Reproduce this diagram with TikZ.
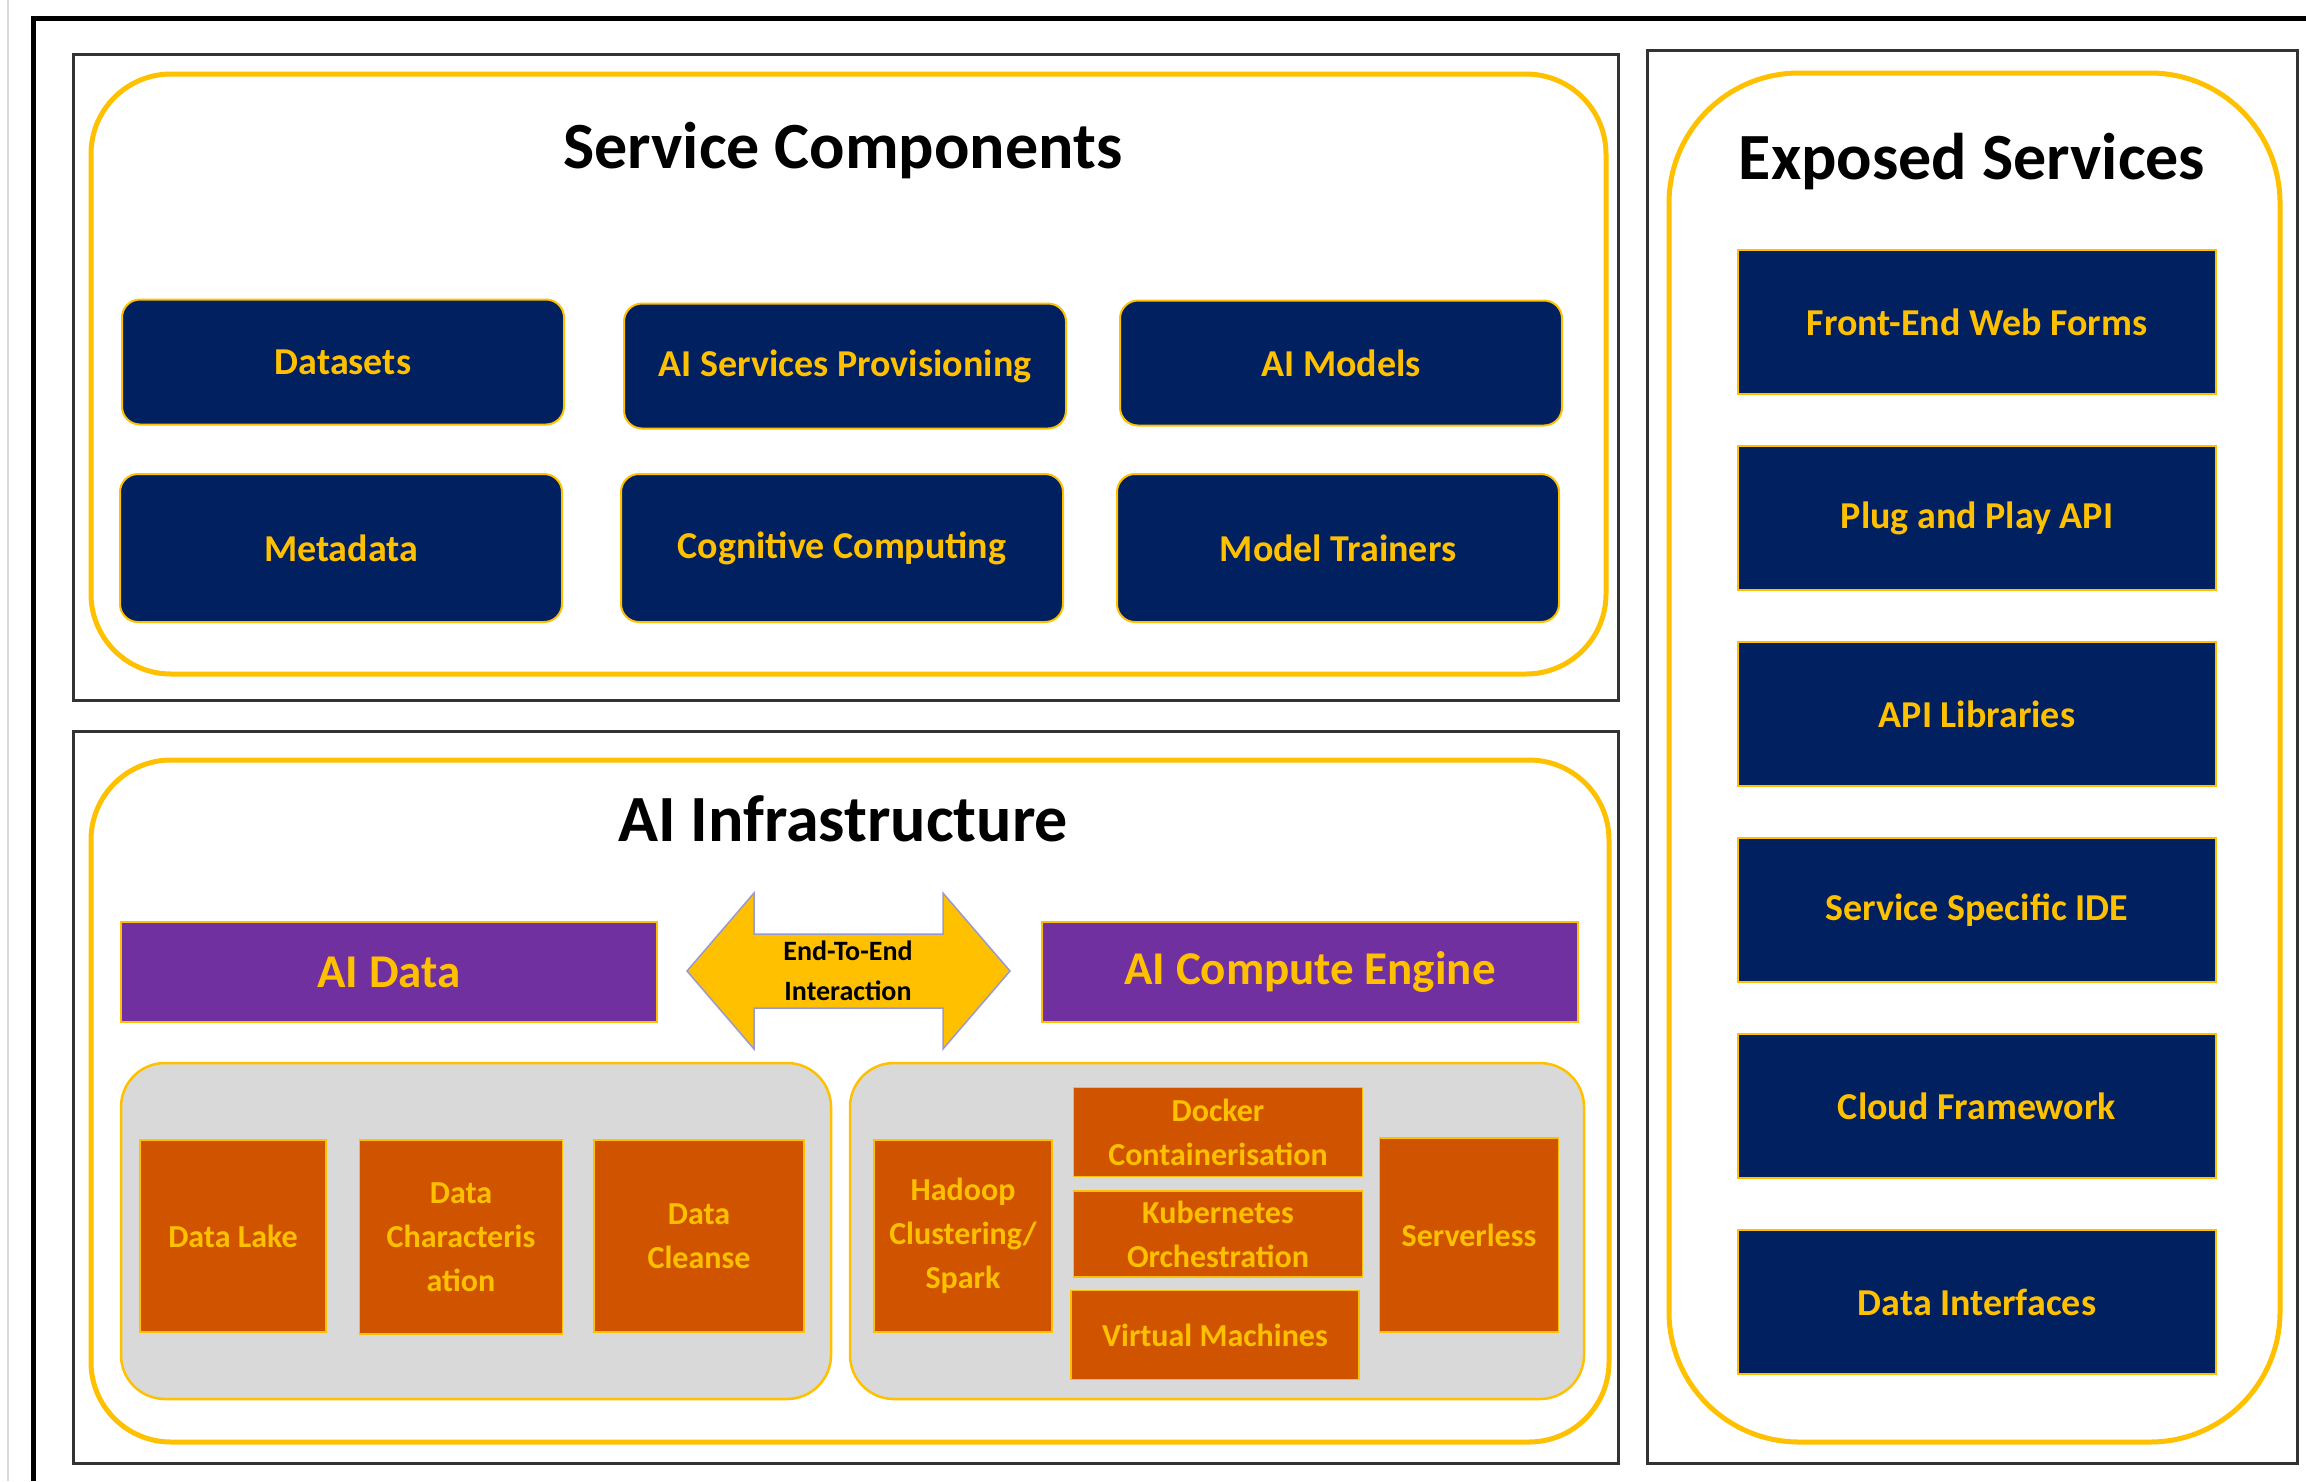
\documentclass[tikz,border=0pt]{standalone}
\usepackage{fontspec}
\setmainfont{Carlito}
\definecolor{navy}{HTML}{002060}
\definecolor{gold}{HTML}{FFC000}
\definecolor{plum}{HTML}{7030A0}
\definecolor{rust}{HTML}{D05400}
\definecolor{ltgray}{HTML}{D9D9D9}
\begin{document}
\begin{tikzpicture}[x=1pt,y=-1pt,
  panel/.style={draw=black!80,line width=3pt},
  group/.style={draw=gold,line width=5pt,rounded corners=80pt},
  pool/.style={draw=gold,line width=2.5pt,fill=ltgray,rounded corners=44pt},
  title/.style={font=\fontsize{66}{72}\selectfont\bfseries},
  svc/.style={draw=gold,line width=2pt,fill=navy,text=gold,rounded corners=18pt,minimum width=442pt,inner sep=0pt,font=\fontsize{38}{44}\selectfont\bfseries},
  expo/.style={draw=gold,line width=2pt,fill=navy,text=gold,minimum width=478pt,minimum height=144pt,inner sep=0pt,font=\fontsize{38}{44}\selectfont\bfseries},
  layer/.style={draw=gold,line width=2pt,fill=plum,text=gold,minimum width=536pt,minimum height=100pt,inner sep=0pt,font=\fontsize{47}{52}\selectfont\bfseries},
  part/.style={draw=gold,line width=1.5pt,fill=rust,text=gold,align=center,inner sep=0pt,font=\fontsize{32}{44}\selectfont\bfseries}]
\useasboundingbox (0,0) rectangle (2306,1481);
\draw[black!15,line width=2pt] (8,0) -- (8,1481);
\draw[line width=5pt] (33,1481) -- (33,18) -- (2306,18);

\draw[panel] (73,54) rectangle (1618,700);
\draw[group] (91,74) rectangle (1606,674);
\node[title] (sctitle) at (843,151) {Service Components};
\node[svc,minimum height=125pt] (datasets) at (343,362) {Datasets};
\node[svc,minimum height=125pt] (provision) at (845,366) {AI Services Provisioning};
\node[svc,minimum height=125pt] (models) at (1341,363) {AI Models};
\node[svc,minimum height=148pt] (metadata) at (341,548) {Metadata};
\node[svc,minimum height=148pt] (cognitive) at (842,548) {Cognitive Computing};
\node[svc,minimum height=148pt] (trainers) at (1338,548) {Model Trainers};

\draw[panel] (73,731) rectangle (1618,1463);
\draw[group] (91,760) rectangle (1609,1442);
\node[title] (aititle) at (843,819) {AI Infrastructure};
\node[layer] (aidata) at (389,972) {AI Data};
\node[layer] (aicompute) at (1310,972) {AI Compute Engine};
\draw[fill=gold,draw=black!45!blue!40,line width=1.5pt] (687,971) -- (754,893) -- (754,934) -- (943,934) -- (943,893) -- (1010,971) -- (943,1049) -- (943,1008) -- (754,1008) -- (754,1049) -- cycle;
\node[align=center,font=\fontsize{28}{40}\selectfont\bfseries] (e2e) at (848,971) {End-To-End\\Interaction};

\draw[pool] (121,1063) rectangle (831,1399);
\draw[pool] (850,1063) rectangle (1584,1399);
\node[part,minimum width=186pt,minimum height=192pt] (lake) at (233,1236) {Data Lake};
\node[part,minimum width=203pt,minimum height=194pt] (charact) at (461,1237) {Data\\Characteris\\ation};
\node[part,minimum width=210pt,minimum height=192pt] (cleanse) at (699,1236) {Data\\Cleanse};
\node[part,minimum width=178pt,minimum height=192pt] (hadoop) at (963,1236) {Hadoop\\Clustering/\\Spark};
\node[part,minimum width=289pt,minimum height=89pt] (docker) at (1218,1132) {Docker\\Containerisation};
\node[part,minimum width=289pt,minimum height=86pt] (kube) at (1218,1234) {Kubernetes\\Orchestration};
\node[part,minimum width=288pt,minimum height=89pt] (vm) at (1215,1335) {Virtual Machines};
\node[part,minimum width=179pt,minimum height=194pt] (serverless) at (1469,1235) {Serverless};

\draw[panel] (1647,50) rectangle (2297,1463);
\draw[group,rounded corners=130pt] (1669,73) rectangle (2280,1442);
\node[title] (extitle) at (1972,162) {Exposed Services};
\node[expo] (webforms) at (1977,322) {Front-End Web Forms};
\node[expo] (plugplay) at (1977,518) {Plug and Play API};
\node[expo] (apilibs) at (1977,714) {API Libraries};
\node[expo] (ide) at (1977,910) {Service Specific IDE};
\node[expo] (cloud) at (1977,1106) {Cloud Framework};
\node[expo] (datainterf) at (1977,1302) {Data Interfaces};
\end{tikzpicture}
\end{document}
